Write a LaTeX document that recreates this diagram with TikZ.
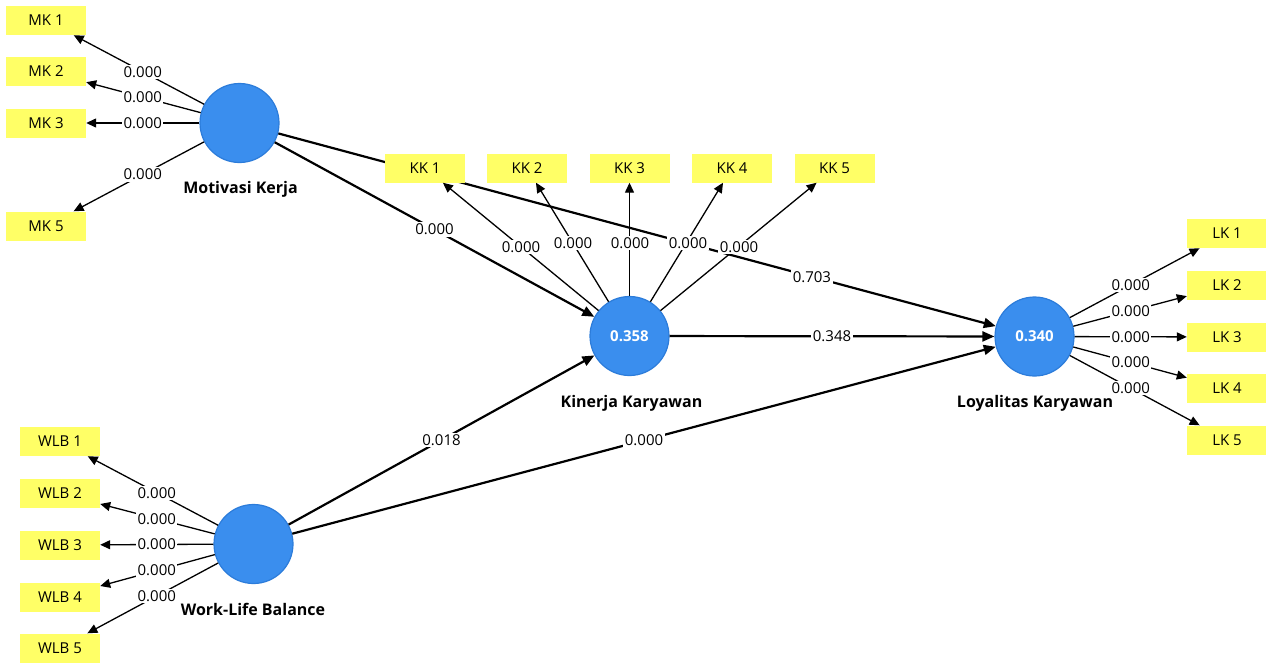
\documentclass[tikz,border=0pt]{standalone}
\usepackage{fontspec}
\setmainfont{Open Sans}
\usetikzlibrary{arrows.meta,calc}
\definecolor{plsblue}{RGB}{58,142,238}
\definecolor{plsedge}{RGB}{44,124,218}
\definecolor{plsyellow}{RGB}{255,255,102}
\pgfdeclarelayer{bg}
\pgfsetlayers{bg,main}
\begin{document}
\begin{tikzpicture}[x=1pt,y=-1pt,
  lv/.style={circle,fill=plsblue,draw=plsedge,line width=1.2pt,minimum size=79pt,inner sep=0pt,text=white,font=\fontsize{15}{18}\selectfont\bfseries},
  ind/.style={rectangle,fill=plsyellow,minimum width=80pt,minimum height=29pt,inner sep=0pt,font=\fontsize{15}{18}\selectfont},
  lvname/.style={font=\fontsize{16}{19}\selectfont\bfseries,inner sep=0pt,anchor=base},
  vallbl/.style={fill=white,inner sep=1.5pt,font=\fontsize{15}{18}\selectfont},
  loadarr/.style={line width=1.3pt,-{Triangle[length=10pt,width=9pt]}},
  structarr/.style={line width=2.2pt,-{Triangle[length=12pt,width=10pt]}}]
\useasboundingbox (0,0) rectangle (1266,662);
% latent variables
\node[lv] (mk) at (239.5,123) {};
\node[lv] (kk) at (629.5,336) {0.358};
\node[lv] (lk) at (1034.5,336.5) {0.340};
\node[lv] (wlb) at (253.5,544) {};
\node[lvname] (mkn) at (240.5,193) {Motivasi Kerja};
\node[lvname] (kkn) at (631.5,407) {Kinerja Karyawan};
\node[lvname] (lkn) at (1035,407) {Loyalitas Karyawan};
\node[lvname] (wlbn) at (253,615) {Work-Life Balance};
% indicators
\node[ind] (mk1) at (46,20.5) {MK 1};
\node[ind] (mk2) at (46,71.5) {MK 2};
\node[ind] (mk3) at (46,123) {MK 3};
\node[ind] (mk5) at (46,226) {MK 5};
\foreach \i/\y in {1/441.5,2/493.5,3/545,4/597,5/648}
  \node[ind] (wlb\i) at (60,\y) {WLB \i};
\foreach \i/\x in {1/425,2/527,3/629.5,4/732,5/834.5}
  \node[ind] (kk\i) at (\x,168) {KK \i};
\foreach \i/\y in {1/233.5,2/285.5,3/337,4/388.5,5/440}
  \node[ind] (lk\i) at (1227,\y) {LK \i};
% structural paths
\begin{pgfonlayer}{bg}
\draw[structarr] (mk) -- (lk);
\end{pgfonlayer}
\draw[structarr] (mk) -- (kk);
\draw[structarr] (kk) -- (lk);
\draw[structarr] (wlb) -- (kk);
\draw[structarr] (wlb) -- (lk);
% loadings
\foreach \t in {mk1,mk2,mk3,mk5} \draw[loadarr] (mk) -- (\t);
\foreach \i in {1,...,5} {
  \draw[loadarr] (wlb) -- (wlb\i);
  \draw[loadarr] (kk) -- (kk\i);
  \draw[loadarr] (lk) -- (lk\i);
}
% value labels
\foreach \t in {mk1,mk2,mk3,mk5} \node[vallbl] at ($(mk)!0.5!(\t)$) {0.000};
\foreach \i in {1,...,5} {
  \node[vallbl] at ($(wlb)!0.5!(wlb\i)$) {0.000};
  \node[vallbl] at ($(lk)!0.5!(lk\i)$) {0.000};
}
\foreach \x/\y in {521/247,573/243,630/243,688/243,739/247}
  \node[vallbl] at (\x,\y) {0.000};
\node[vallbl] (v1) at ($(mk)!0.5!(kk)$) {0.000};
\node[vallbl] (v2) at ($(mk)!0.72!(lk)$) {0.703};
\node[vallbl] (v3) at ($(kk)!0.5!(lk)$) {0.348};
\node[vallbl] (v4) at ($(wlb)!0.5!(kk)$) {0.018};
\node[vallbl] (v5) at ($(wlb)!0.5!(lk)$) {0.000};
\end{tikzpicture}
\end{document}
